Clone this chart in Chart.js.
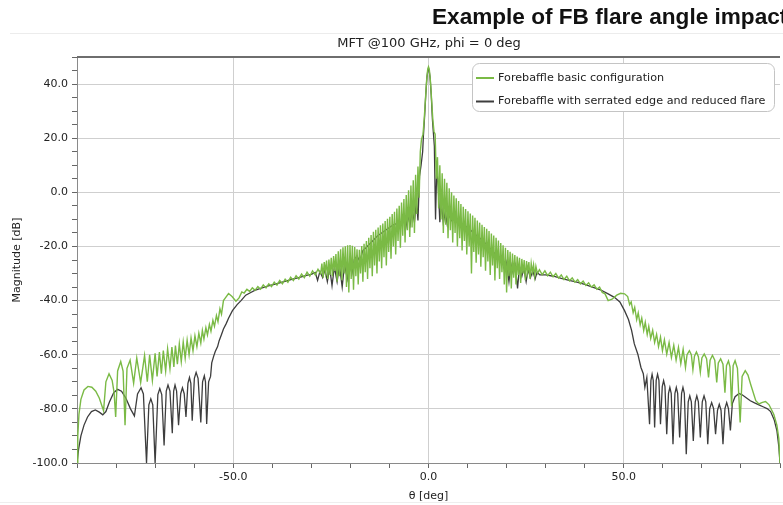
<!DOCTYPE html>
<html>
<head>
<meta charset="utf-8">
<script src="https://cdn.jsdelivr.net/npm/chart.js@4.4.1/dist/chart.umd.min.js"></script>
<style>
  html, body { margin: 0; padding: 0; background: #fff; }
  #wrap { position: relative; width: 783px; height: 505px; overflow: hidden; }
  #heading {
    position: absolute; left: 432px; top: 4px; white-space: nowrap;
    font: bold 22.6px "Liberation Sans", Arial, sans-serif; color: #111;
  }
  #rule { position: absolute; left: 10px; top: 33px; width: 773px; height: 1px; background: #ececec; }
  #foot { position: absolute; left: 0; top: 502px; width: 783px; height: 1px; background: #eeeeee; }
  canvas { position: absolute; left: 0; top: 0; }
</style>
</head>
<body>
<div id="wrap">
  <canvas id="farField" width="783" height="505"></canvas>
  <div id="heading">Example of FB flare angle impact</div>
  <div id="rule"></div>
  <div id="foot"></div>
</div>
<script>
// [theta deg, magnitude dB], per region
const basicLeftOuter = [
  [-90,-100],[-89.8,-90],[-89.5,-82],[-89,-76.5],[-88.2,-73],[-87.2,-71.7],[-86.2,-72],[-85.2,-73.5],[-84.3,-76],
  [-83.2,-80.7],[-82.6,-70],[-81.8,-67],[-81,-69.5],[-80.5,-74],[-80.1,-83],[-79.6,-66],[-78.8,-62.5],[-78.2,-66],
  [-77.7,-86],[-77.2,-65],[-76.4,-62],[-75.5,-70.5],[-74.7,-61.2],[-73.7,-70.3],[-72.7,-60.3],[-72,-70],[-71.4,-60],
  [-70.7,-69.5],[-70,-59.5],[-69.5,-68],[-68.9,-59],[-68.4,-67],[-67.9,-58.5],[-67.3,-66],[-66.8,-57.8],[-66.2,-65.2],
  [-65.7,-57.2],[-65.2,-64.5],[-64.8,-56.6],[-64.3,-63.5],[-63.8,-56],[-63.3,-62.5],[-62.8,-55.3],[-62.3,-61.3],
  [-61.8,-54.6],[-61.3,-60],[-60.8,-53.8],[-60.3,-58.5],[-59.8,-53],[-59.3,-57],[-58.8,-52],[-58.3,-55.7],[-57.9,-51],
  [-57.5,-54.2],[-57,-50],[-56.6,-52.7],[-56.1,-48.8],[-55.7,-51.3],[-55.2,-47.3],[-54.8,-49.5],[-54.3,-45.5],
  [-53.9,-47.8],[-53.4,-43],[-53,-45],[-52.5,-40]
];
const basicLeftMid = [
  [-52,-39],[-51.2,-37.4],[-50.3,-38.5],[-49.3,-40.2],[-48.5,-39],[-47.8,-36.8],[-47.2,-37.2],[-46.5,-35.8],
  [-45.8,-36.6],[-45.1,-35.3],[-44.4,-36.2],[-43.7,-34.8],[-43,-35.8],[-42.3,-34.2],[-41.6,-35.3],[-40.9,-33.8],
  [-40.2,-34.8],[-39.5,-33.2],[-38.8,-34.3],[-38.1,-32.6],[-37.4,-33.8],[-36.7,-32.1],[-36,-33.2],[-35.3,-31.4],
  [-34.6,-32.6],[-33.9,-30.8],[-33.2,-32],[-32.5,-30.2],[-31.8,-31.5],[-31.1,-29.5],[-30.4,-31],[-29.7,-29],
  [-29,-30.5],[-28.3,-28.4],[-27.9,-29.5]
];
const basicCenter = [
  [-27.6,-30],[-27.3,-26.3],[-27,-31.5],[-26.7,-25.8],[-26.4,-29.5],[-26.1,-25.2],[-25.8,-32],[-25.5,-24.8],
  [-25.2,-30.5],[-24.9,-24.2],[-24.6,-31],[-24.3,-23.5],[-24,-29],[-23.7,-22.8],[-23.4,-33],[-23.1,-21.8],
  [-22.8,-31],[-22.5,-21],[-22.2,-32.5],[-21.9,-20.3],[-21.6,-30],[-21.3,-19.9],[-21,-35],[-20.7,-19.6],
  [-20.4,-37],[-20.1,-19.5],[-19.8,-32],[-19.5,-19.7],[-19.2,-36],[-18.9,-20.2],[-18.6,-31],[-18.3,-21],
  [-18,-34],[-17.7,-21.2],[-17.4,-30],[-17.1,-19.8],[-16.8,-33],[-16.5,-19],[-16.2,-29.5],[-15.9,-18],
  [-15.6,-32],[-15.3,-16.8],[-15,-28],[-14.7,-15.8],[-14.4,-31],[-14.1,-14.6],[-13.8,-27],[-13.5,-13.8],
  [-13.2,-30],[-12.9,-13],[-12.6,-25.5],[-12.3,-12.2],[-12,-28],[-11.7,-11.5],[-11.4,-24],[-11.1,-10.6],
  [-10.8,-27],[-10.5,-9.8],[-10.2,-22],[-9.9,-9],[-9.6,-24.5],[-9.3,-8],[-9,-20],[-8.7,-7.2],[-8.4,-23],
  [-8.1,-6],[-7.8,-18],[-7.5,-5],[-7.2,-20.5],[-6.9,-3.8],[-6.6,-16],[-6.3,-2.5],[-6,-18.5],[-5.7,-1],
  [-5.4,-14],[-5.1,0.8],[-4.8,-16.5],[-4.5,2.5],[-4.2,-13],[-3.9,4.5],[-3.6,-15],[-3.3,6.5],[-3,-8],
  [-2.7,9.5],[-2.4,-2],[-2.1,15],[-1.8,19.5],[-1.4,21.5],[-1.1,27],[-0.8,34],[-0.5,41],[-0.2,45.5],[0,46.4],
  [0.2,45.5],[0.5,41],[0.8,34],[1.1,27],[1.4,22.5],[1.7,21.5],[2,5],[2.3,13],[2.6,-6],[2.9,10],[3.2,-10],
  [3.5,7],[3.8,-15],[4.1,5],[4.4,-12],[4.7,3.5],[5,-17],[5.3,1.5],[5.6,-14],[5.9,0],[6.2,-18.5],[6.5,-1.2],
  [6.8,-15],[7.1,-2.2],[7.4,-20],[7.7,-3.2],[8,-17],[8.3,-4.3],[8.6,-21.5],[8.9,-5.3],[9.2,-18],[9.5,-6.2],
  [9.8,-23],[10.1,-7],[10.4,-20],[10.7,-7.8],[11,-30],[11.3,-8.6],[11.6,-22],[11.9,-9.4],[12.2,-26],
  [12.5,-10.4],[12.8,-23],[13.1,-11.2],[13.4,-27.5],[13.7,-12],[14,-24],[14.3,-12.8],[14.6,-29],[14.9,-13.5],
  [15.2,-25.5],[15.5,-14.3],[15.8,-30.5],[16.1,-15.2],[16.4,-27],[16.7,-16],[17,-32.6],[17.3,-16.8],[17.6,-28],
  [17.9,-17.8],[18.2,-32],[18.5,-18.7],[18.8,-29.5],[19.1,-19.6],[19.4,-34],[19.7,-20.5],[20,-37],[20.3,-21.3],
  [20.6,-31],[20.9,-22],[21.2,-35.5],[21.5,-22.6],[21.8,-31.5],[22.1,-23.2],[22.4,-34],[22.7,-23.7],[23,-30.5],
  [23.3,-24.2],[23.6,-33.5],[23.9,-24.6],[24.2,-30],[24.5,-25],[24.8,-32.5],[25.1,-25.4],[25.4,-29.5],
  [25.7,-25.8],[26,-32],[26.3,-26.3],[26.6,-29.5],[26.9,-26.8],[27.2,-31],[27.5,-27.3],[27.9,-30]
];
const basicRightMid = [
  [28.4,-28.6],[29.1,-30.4],[29.8,-29],[30.5,-30.8],[31.2,-29.5],[31.9,-31.2],[32.6,-30],[33.3,-31.7],[34,-30.5],
  [34.7,-32.2],[35.4,-31],[36.1,-32.7],[36.8,-31.6],[37.5,-33.2],[38.2,-32.2],[38.9,-33.8],[39.6,-32.8],
  [40.3,-34.4],[41,-33.4],[41.7,-35],[42.4,-34.2],[43.1,-35.8],[43.8,-35],[44.5,-37],[45.2,-37.5],[46,-40],
  [47,-39.5],[48.2,-38],[49.2,-37.3],[50.2,-37.5],[51,-38.5]
];
const basicRightOuter = [
  [51.5,-41.5],[51.9,-40.5],[52.4,-44.5],[52.8,-42.5],[53.3,-47],[53.7,-44.5],[54.2,-49],[54.6,-46.5],[55.1,-51],
  [55.5,-48],[56,-52.5],[56.4,-49.5],[56.9,-54],[57.4,-51],[57.9,-55.5],[58.4,-52.5],[58.9,-57],[59.4,-53.5],
  [59.9,-58.5],[60.4,-54.5],[61,-59.8],[61.6,-55.5],[62.2,-61],[62.8,-56.5],[63.4,-62],[64,-57.3],[64.6,-63.3],
  [65.2,-58],[65.8,-64.7],[66.2,-60],[66.8,-58.5],[67.3,-60],[67.7,-65.5],[68.1,-60.5],[68.6,-59],[69.1,-60.7],
  [69.6,-66.5],[70,-61.2],[70.6,-59.7],[71.2,-61.5],[71.7,-68.4],[72.1,-62],[72.7,-60.2],[73.3,-62],[73.8,-70.2],
  [74.2,-63],[74.8,-61.5],[75.4,-63.5],[75.9,-74],[76.3,-64],[76.8,-62.3],[77.2,-64.5],[77.6,-79],[78,-64],
  [78.5,-62.2],[79.1,-65],[79.8,-85],[80.3,-68],[81.1,-65.9],[81.8,-67.5],[82.5,-71],[83.8,-77],[84.6,-78.2],
  [85.5,-77.6],[86.3,-77.3],[87.2,-78.5],[88.4,-82],[89.2,-86],[89.7,-91],[90,-100]
];

const serratedLeftOuter = [
  [-90,-100],[-89.6,-95],[-89,-90],[-88.2,-86],[-87.3,-83],[-86.3,-81],[-85.3,-80.4],[-84.3,-81.2],[-83.4,-82.2],
  [-82.6,-81],[-81.7,-77.5],[-80.6,-74],[-79.6,-72.8],[-78.6,-73.5],[-77.5,-76],[-76.3,-80],[-75.3,-82.6],
  [-74.5,-74.5],[-73.6,-72.2],[-73,-74.5],[-72.2,-100],[-71.6,-78.5],[-71.1,-76.3],[-70.6,-78.5],[-70,-100],
  [-69.3,-74.7],[-68.8,-72.5],[-68.3,-74.7],[-67.7,-93.5],[-67.15,-73.4],[-66.7,-71.2],[-66.2,-73.4],[-65.6,-89],
  [-65.25,-73.4],[-64.9,-71.2],[-64.5,-73.4],[-64,-86],[-63.45,-74.4],[-63,-72.2],[-62.55,-74.4],[-62.1,-83],
  [-61.6,-70.6],[-61.2,-68.4],[-60.85,-70.6],[-60.5,-84.4],[-59.95,-68.7],[-59.5,-66.5],[-59,-68.7],[-58.3,-85],
  [-57.85,-70],[-57.4,-67.8],[-57.1,-70],[-56.8,-85.6],[-56.3,-70],[-55.8,-68],[-55.5,-63],[-55,-60.5],
  [-54.6,-58.8],[-54,-57],[-53.6,-54.8],[-53,-52.5],[-52.5,-50.5],[-51.8,-48.5],[-51.2,-46.5],[-50.2,-43.7],
  [-49,-41.5],[-48,-40],[-46.8,-38],[-45.5,-37],[-44.5,-36.2]
];
const serratedLeftMid = [
  [-43,-35.5],[-41,-34.6],[-39,-33.8],[-37,-33],[-35,-32.2],[-33,-31.4],[-31,-30.6],[-30,-30.3],[-29,-29.6],
  [-28.4,-32.5],[-27.8,-29.2],[-27.1,-31.5],[-26.5,-28.5],[-25.9,-33],[-25.3,-28],[-24.7,-34.5],[-24.1,-27.5],
  [-23.4,-33],[-22.8,-27],[-22.1,-35],[-21.5,-26.5],[-20.8,-32],[-20.2,-26],[-19.6,-30],[-19,-24.8],[-18.3,-23.5],
  [-17.6,-25.5],[-16.8,-21.5]
];
const serratedCenter = [
  [-16,-20.5],[-15,-19],[-14,-17.5],[-13,-16],[-12,-15],[-11,-14],[-10,-13],[-9,-12],[-8,-11.5],[-7,-11.5],
  [-6.3,-9],[-5.8,-13],[-5.3,-8.5],[-4.7,-12],[-4.2,-6],[-3.6,-11],[-3.1,-3],[-2.7,-10.4],[-2.3,6],[-1.9,10],
  [-1.5,15],[-1.3,21],[-1,28],[-0.7,36],[-0.4,42.5],[-0.15,45.2],[0,45.6],[0.15,45.2],[0.4,42.5],[0.7,36],
  [1,27],[1.3,21],[1.5,17],[1.8,-10],[2.1,8],[2.5,2],[2.9,-11],[3.3,-4],[3.8,-11.5],[4.3,-7],[4.8,-12],[5.3,-8],
  [5.8,-10.5],[6.5,-10],[7.5,-11],[8.5,-11.6],[9.5,-12.5],[10.5,-13.5],[11.5,-15],[12.8,-16.5],[14,-18],
  [15,-19.5],[16,-21],[17,-22.7],[18,-24],[19,-25.5]
];
const serratedRightMid = [
  [19.5,-29],[20,-26],[20.6,-33],[21.1,-26.5],[21.7,-30],[22.2,-27],[22.8,-35.5],[23.3,-27.5],[23.9,-31],
  [24.4,-28],[25,-33],[25.5,-28.5],[26.1,-31.5],[26.7,-29],[27.3,-32],[27.8,-29.5],[28.5,-30.5],[30,-30.5],
  [32,-31],[34,-31.8],[36,-32.5],[38,-33.2],[40,-34],[42,-35],[44,-36],[46,-37.5],[47.6,-38.8],[49,-40.5],
  [50.2,-43.7],[51.2,-47],[52,-51],[52.7,-56],[53.6,-59.8]
];
const serratedRightOuter = [
  [54.4,-64.7],[55,-67],[55.4,-72],[55.9,-68.4],[56.6,-85.7],[56.95,-69.5],[57.25,-67.2],[57.55,-69.5],
  [57.9,-86.9],[58.3,-69.5],[58.65,-67.2],[59,-69.5],[59.4,-85.7],[59.85,-71.8],[60.2,-69.6],[60.55,-71.8],
  [61,-89.4],[61.45,-74.3],[61.8,-72.1],[62.15,-74.3],[62.6,-93.1],[63.1,-74.3],[63.45,-72.1],[63.8,-74.3],
  [64.3,-90.6],[64.8,-74.3],[65.15,-72.1],[65.5,-74.3],[66,-96.8],[66.5,-77.4],[66.9,-75.2],[67.3,-77.4],
  [67.8,-91.9],[68.3,-77.4],[68.7,-75.2],[69.1,-77.4],[69.6,-90.6],[70.1,-77.4],[70.55,-75.2],[71,-77.4],
  [71.5,-93.1],[72,-79.9],[72.5,-77.7],[73,-79.9],[73.5,-89.4],[74,-80.5],[74.45,-78.3],[74.9,-80.5],
  [75.4,-93.1],[75.9,-79.9],[76.35,-77.7],[76.8,-79.9],[77.3,-88],[77.8,-78],[78.5,-75.5],[79.5,-74.3],
  [80.3,-74.8],[81,-75.5],[82.4,-77],[83.5,-77.8],[84.6,-78.5],[85.8,-79.3],[86.8,-80],[87.6,-81],[88.5,-84],
  [89.2,-88],[89.7,-94],[90,-100]
];

const seriesNames = ['Forebaffle basic configuration', 'Forebaffle with serrated edge and reduced flare'];
const seriesColors = ['#7aba45', '#3d3d3d'];

const toPoints = parts => parts.flat().map(([x, y]) => ({ x, y }));
const basicData = toPoints([basicLeftOuter, basicLeftMid, basicCenter, basicRightMid, basicRightOuter]);
const serratedData = toPoints([serratedLeftOuter, serratedLeftMid, serratedCenter, serratedRightMid, serratedRightOuter]);

const FONT = '"DejaVu Sans", Verdana, sans-serif';

// subtitle, frame top and legend box
const decorations = {
    id: 'decorations',
    afterDraw(chart) {
        const { ctx, chartArea } = chart;
        ctx.save();
        ctx.fillStyle = '#222';
        ctx.font = `13px ${FONT}`;
        ctx.textAlign = 'center';
        ctx.textBaseline = 'middle';
        ctx.fillText('MFT @100 GHz, phi = 0 deg', 429, 44);

        ctx.strokeStyle = '#6e6e6e';
        ctx.lineWidth = 2;
        ctx.beginPath();
        ctx.moveTo(chartArea.left, chartArea.top);
        ctx.lineTo(chartArea.right, chartArea.top);
        ctx.stroke();

        // legend
        const bx = 472.5, by = 63.5, bw = 302, bh = 48, r = 7;
        ctx.beginPath();
        ctx.roundRect(bx, by, bw, bh, r);
        ctx.fillStyle = '#fff';
        ctx.fill();
        ctx.strokeStyle = '#c4c4c4';
        ctx.lineWidth = 1;
        ctx.stroke();
        ctx.font = `11.2px ${FONT}`;
        ctx.textAlign = 'left';
        seriesNames.forEach((name, i) => {
            const y = 78 + i * 23.5;
            ctx.strokeStyle = seriesColors[i];
            ctx.lineWidth = 2;
            ctx.beginPath();
            ctx.moveTo(476, y);
            ctx.lineTo(494, y);
            ctx.stroke();
            ctx.fillStyle = '#222';
            ctx.fillText(name, 498, y);
        });
        ctx.restore();
    }
};

new Chart(document.getElementById('farField'), {
    type: 'line',
    plugins: [ decorations ],
    data: {
        datasets: [
            {
                label: seriesNames[0],
                data: basicData,
                borderColor: seriesColors[0],
                borderWidth: 1.4,
                pointRadius: 0,
                tension: 0
            },
            {
                label: seriesNames[1],
                data: serratedData,
                borderColor: seriesColors[1],
                borderWidth: 1.3,
                pointRadius: 0,
                tension: 0
            }
        ]
    },
    options: {
        responsive: false,
        animation: false,
        layout: { padding: { top: 57, left: 0, right: 0, bottom: 0 } },
        plugins: {
            legend: { display: false },
            tooltip: { enabled: false }
        },
        scales: {
            x: {
                type: 'linear',
                min: -90,
                max: 90,
                afterFit: s => { s.height = 42; },
                ticks: {
                    stepSize: 10,
                    autoSkip: false,
                    maxRotation: 0,
                    padding: 3,
                    color: '#222',
                    font: { family: FONT, size: 11 },
                    callback: v => (v % 50 === 0 ? v.toFixed(1) : '')
                },
                grid: {
                    color: c => (c.tick && c.tick.value % 50 === 0 ? '#cfcfcf' : 'rgba(0,0,0,0)'),
                    tickColor: '#666',
                    tickLength: 5,
                    lineWidth: 1
                },
                border: { color: '#8a8a8a', width: 1 },
                title: {
                    display: true,
                    text: 'θ [deg]',
                    color: '#222',
                    font: { family: FONT, size: 11 },
                    padding: { top: 0, bottom: 2 }
                }
            },
            y: {
                min: -100,
                max: 50,
                afterFit: s => { s.width = 77; },
                ticks: {
                    stepSize: 5,
                    autoSkip: false,
                    padding: 4,
                    color: '#222',
                    font: { family: FONT, size: 11 },
                    callback: v => (v % 20 === 0 ? v.toFixed(1) : '')
                },
                grid: {
                    color: c => (c.tick && c.tick.value % 20 === 0 ? '#cfcfcf' : 'rgba(0,0,0,0)'),
                    tickColor: '#666',
                    tickLength: 5,
                    lineWidth: 1
                },
                border: { color: '#8a8a8a', width: 1 },
                title: {
                    display: true,
                    text: 'Magnitude [dB]',
                    color: '#222',
                    font: { family: FONT, size: 11 },
                    padding: { top: 11, bottom: 0 }
                }
            }
        }
    }
});
</script>
</body>
</html>
